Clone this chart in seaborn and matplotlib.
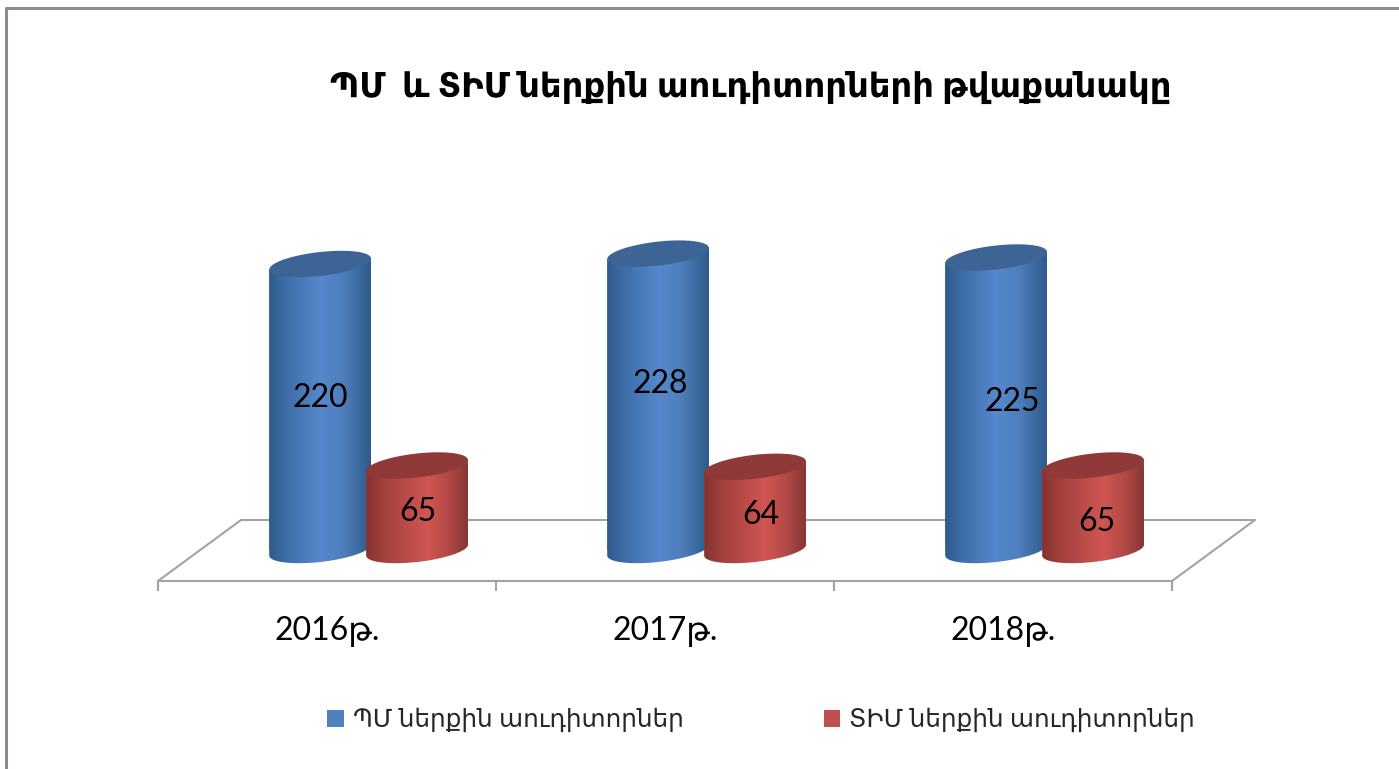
import numpy as np
import pandas as pd
import matplotlib
matplotlib.use('Agg')
import matplotlib.pyplot as plt
from matplotlib.colors import LinearSegmentedColormap
from matplotlib.lines import Line2D
from matplotlib.patches import Polygon
import seaborn as sns

# Chart data
years = ['2016թ.', '2017թ.', '2018թ.']
series_names = ['ՊՄ ներքին աուդիտորներ', 'ՏԻՄ ներքին աուդիտորներ']
pm_values = [220, 228, 225]
tim_values = [65, 64, 65]
title = 'ՊՄ  և ՏԻՄ ներքին աուդիտորների թվաքանակը'

# Layout, in pixels of the 1399x769 picture
W, H = 1399, 769
AX_LEFT, AX_RIGHT, AX_BOTTOM = 158, 1172, 581
PX_PER_UNIT = 1.30
Y_MIN, Y_MAX = -23.85, 300
CAT_SHIFT = 0.123  # bars stand right of the axis ticks (depth of the floor)
CAP_B = 12.0  # half height of the cylinder cap
CAP_TILT = 5.5  # right end of the cap is higher
# nudges of the value labels, (dx, dy) in pixels from the middle of each bar
LABEL_NUDGE = [[(0, 9), (2, 18), (16, 2)], [(1, -4), (6, -7), (4, -14)]]

GRAY = '#a3a3a3'
BODY_COLORS = ['#4f81bd', '#c0504d']
CAP_COLORS = ['#3c6595', '#8f3a38']
BODY_MAPS = [
    LinearSegmentedColormap.from_list('blue3d', [(0, '#2f5a8a'), (0.15, '#3d6ca6'), (0.5, '#5588cc'), (0.72, '#4f7fbe'), (1, '#2f5a8a')]),
    LinearSegmentedColormap.from_list('red3d', [(0, '#853331'), (0.2, '#a5423f'), (0.6, '#d05652'), (0.8, '#b54a47'), (1, '#853634')]),
]

sns.set_theme(style='white')
plt.rcParams['font.family'] = ['Lato', 'DejaVu Sans']

df = pd.DataFrame({
    'year': years * 2,
    'count': pm_values + tim_values,
    'series': [series_names[0]] * 3 + [series_names[1]] * 3,
})

fig = plt.figure(figsize=(W / 100, H / 100), dpi=100, facecolor='white')
ax_h = (Y_MAX - Y_MIN) * PX_PER_UNIT
ax = fig.add_axes([AX_LEFT / W, (H - AX_BOTTOM) / H, (AX_RIGHT - AX_LEFT) / W, ax_h / H])

sns.barplot(data=df, x='year', y='count', hue='series', palette=BODY_COLORS, saturation=1,
            width=0.5735, gap=-0.05, linewidth=0, ax=ax, zorder=3)

# Bars become cylinders: shaded body, tilted cap, round foot
for s, container in enumerate(ax.containers):
    z = 3 + s
    for c, bar in enumerate(container):
        x0, w, val = bar.get_x(), bar.get_width(), bar.get_height()
        cx = x0 + w / 2
        b = CAP_B / PX_PER_UNIT
        tilt = CAP_TILT / PX_PER_UNIT
        t = np.linspace(np.pi, 2 * np.pi, 60)
        foot = np.column_stack([cx + w / 2 * np.cos(t), b * np.sin(t) + tilt * np.cos(t)])
        body = np.vstack([foot, [[x0 + w, val + tilt], [x0, val - tilt]]])
        outline = Polygon(body, closed=True, transform=ax.transData)
        bar.set_zorder(z)
        bar.set_clip_path(outline)
        img = ax.imshow(np.linspace(0, 1, 256).reshape(1, -1), cmap=BODY_MAPS[s], aspect='auto',
                        extent=(x0, x0 + w, -b - tilt, val + tilt), zorder=z + 0.05, interpolation='bilinear')
        img.set_clip_path(outline)
        t = np.linspace(0, 2 * np.pi, 120)
        ax.fill(cx + w / 2 * np.cos(t), val + b * np.sin(t) + tilt * np.cos(t),
                color=CAP_COLORS[s], lw=0, zorder=z + 0.1)
        dx, dy = LABEL_NUDGE[s][c]
        ax.annotate(str(int(val)), (cx, val / 2), xytext=(dx * 0.72, dy * 0.72), textcoords='offset points',
                    ha='center', va='center', fontsize=23, color='black', zorder=10)

ax.set_xlim(-0.5 - CAT_SHIFT, 2.5 - CAT_SHIFT)
ax.set_ylim(Y_MIN, Y_MAX)

# Axis: labels under the floor, ticks between the categories
ax.set_xticks(np.arange(3) - CAT_SHIFT, years)
ax.set_xticks(np.arange(4) - 0.5 - CAT_SHIFT, minor=True)
ax.tick_params(axis='x', which='major', length=0, pad=25, labelsize=23, labelcolor='black')
ax.tick_params(axis='x', which='minor', length=7.5, width=1.5, color=GRAY, direction='out', bottom=True)
ax.set_xlabel('')
ax.set_ylabel('')
ax.set_yticks([])
for side in ['top', 'left', 'right']:
    ax.spines[side].set_visible(False)
ax.spines['bottom'].set_color(GRAY)
ax.spines['bottom'].set_linewidth(1.5)
ax.patch.set_alpha(0)

# Floor of the 3D chart, behind the bars
floor_x = np.array([AX_LEFT, 241, 1255, AX_RIGHT])
floor_y = np.array([AX_BOTTOM, 520, 520, AX_BOTTOM])
ax.plot((floor_x - AX_LEFT) / (AX_RIGHT - AX_LEFT), (AX_BOTTOM - floor_y) / ax_h, color=GRAY, lw=1.5,
        transform=ax.transAxes, clip_on=False, zorder=1)

fig.text(751 / W, 1 - 87 / H, title, ha='center', va='center', fontsize=24.3, fontweight='bold', color='black')

sns.move_legend(ax, 'center', bbox_to_anchor=(761 / W, 1 - 720 / H), bbox_transform=fig.transFigure,
                ncol=2, frameon=False, title=None, fontsize=17.8, handlelength=0.68, handleheight=0.68,
                handletextpad=0.35, columnspacing=5.67)

# Frame of the picture, only left and top show
fig.add_artist(Line2D([6 / W, 6 / W, 1], [0, 1 - 7.5 / H, 1 - 7.5 / H], color='#8c8c8c', lw=2.2))

fig.savefig('out.png', dpi=100)
